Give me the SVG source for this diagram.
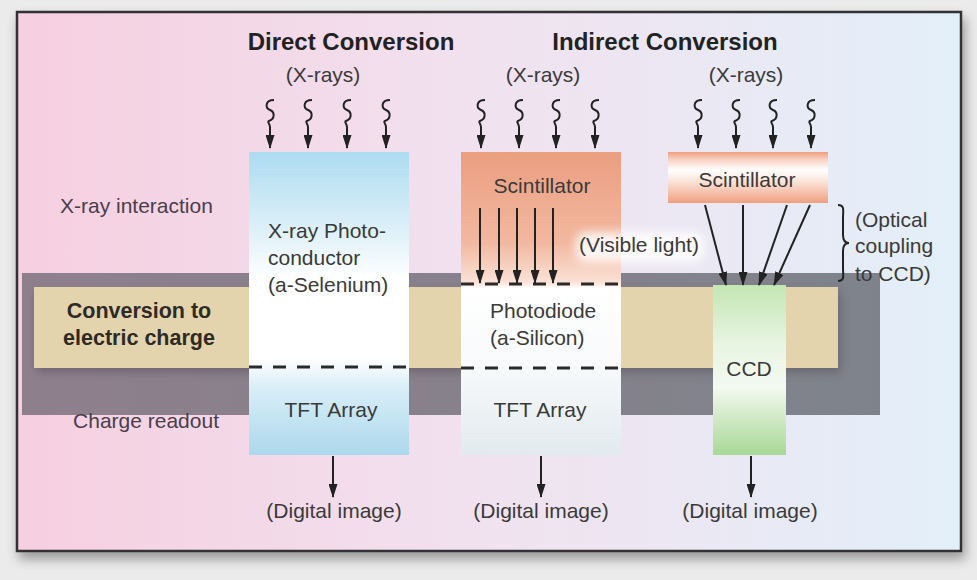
<svg xmlns="http://www.w3.org/2000/svg" width="977" height="580" viewBox="0 0 977 580">
<defs>
  <style>
    text { font-family: "Liberation Sans", Arial, sans-serif; font-size: 21px; fill: #3a3a3a; }
    .title { font-weight: bold; font-size: 24px; fill: #222; }
    .bold { font-weight: bold; font-size: 21.5px; fill: #2e2a26; }
    .side { fill: #4a3e4a; }
    .c { text-anchor: middle; }
    .ln { stroke: #222; stroke-width: 2; fill: none; }
    .arr { stroke: #222; stroke-width: 2; fill: none; marker-end: url(#ah); }
    .dash { stroke: #2a2a2a; stroke-width: 3; stroke-dasharray: 13 11; fill: none; }
  </style>
  <marker id="ah" markerUnits="userSpaceOnUse" markerWidth="14" markerHeight="9" refX="13" refY="4.5" orient="auto">
    <path d="M0,0 L14,4.5 L0,9 Z" fill="#222"/>
  </marker>
  <linearGradient id="bg" x1="0" y1="0" x2="1" y2="0">
    <stop offset="0" stop-color="#f6cfe0"/>
    <stop offset="0.5" stop-color="#f1e2ef"/>
    <stop offset="1" stop-color="#e2eff9"/>
  </linearGradient>
  <linearGradient id="band" x1="0" y1="0" x2="1" y2="0">
    <stop offset="0" stop-color="#8f7f8d"/>
    <stop offset="1" stop-color="#7e838b"/>
  </linearGradient>
  <linearGradient id="g1" x1="0" y1="0" x2="0" y2="1">
    <stop offset="0" stop-color="#acdcf0"/>
    <stop offset="0.28" stop-color="#e2f2f9"/>
    <stop offset="0.42" stop-color="#ffffff"/>
    <stop offset="0.68" stop-color="#ffffff"/>
    <stop offset="0.78" stop-color="#d8eef7"/>
    <stop offset="1" stop-color="#acd8ec"/>
  </linearGradient>
  <linearGradient id="g2" x1="0" y1="0" x2="0" y2="1">
    <stop offset="0" stop-color="#eb9e80"/>
    <stop offset="0.3" stop-color="#f2b8a0"/>
    <stop offset="0.43" stop-color="#fbe2d6"/>
    <stop offset="0.45" stop-color="#ffffff"/>
    <stop offset="0.7" stop-color="#f8fafb"/>
    <stop offset="1" stop-color="#e2eaee"/>
  </linearGradient>
  <linearGradient id="gs" x1="0" y1="0" x2="0" y2="1">
    <stop offset="0" stop-color="#ef9f80"/>
    <stop offset="0.15" stop-color="#f8d2c2"/>
    <stop offset="0.35" stop-color="#ffffff"/>
    <stop offset="0.6" stop-color="#fbe0d4"/>
    <stop offset="1" stop-color="#ef9f80"/>
  </linearGradient>
  <linearGradient id="gc" x1="0" y1="0" x2="0" y2="1">
    <stop offset="0" stop-color="#c4e6b4"/>
    <stop offset="0.35" stop-color="#e8f5e2"/>
    <stop offset="0.6" stop-color="#f4f9f1"/>
    <stop offset="1" stop-color="#a8d896"/>
  </linearGradient>
  <filter id="sh" x="-5%" y="-5%" width="110%" height="115%">
    <feDropShadow dx="3" dy="7" stdDeviation="6" flood-color="#000" flood-opacity="0.35"/>
  </filter>
  <filter id="blur" x="-20%" y="-50%" width="140%" height="200%">
    <feGaussianBlur stdDeviation="5"/>
  </filter>
</defs>

<rect x="0" y="0" width="977" height="580" fill="#ebebeb"/>
<rect id="frame" x="17" y="12" width="944" height="539" fill="url(#bg)" stroke="#333" stroke-width="2.5" filter="url(#sh)"/>

<g id="band-layer">
  <rect x="22" y="273" width="858" height="142" fill="url(#band)"/>
  <rect x="36" y="292" width="804" height="80" fill="#3a3038" opacity="0.35" filter="url(#blur)"/>
  <rect x="34" y="287" width="804" height="81" fill="#e3d4ae"/>
</g>

<g id="labels-left">
  <text x="60" y="213" class="side">X-ray interaction</text>
  <g id="conversion-label">
    <text x="139" y="318" class="bold c">Conversion to</text>
    <text x="139" y="345" class="bold c">electric charge</text>
  </g>
  <text x="146" y="428" class="side c">Charge readout</text>
</g>

<text x="351" y="50" class="title c">Direct Conversion</text>
<text x="665" y="50" class="title c">Indirect Conversion</text>
<text x="323" y="82" class="c">(X-rays)</text>
<text x="543" y="82" class="c">(X-rays)</text>
<text x="746" y="82" class="c">(X-rays)</text>

<g id="direct-column">
  <rect x="249" y="152" width="160" height="303" fill="url(#g1)"/>
  <line x1="249" y1="367" x2="409" y2="367" class="dash"/>
  <text x="268" y="238">X-ray Photo-</text>
  <text x="268" y="265">conductor</text>
  <text x="268" y="292">(a-Selenium)</text>
  <text x="331" y="417" class="c">TFT Array</text>
</g>

<g id="indirect-column">
  <rect x="461" y="152" width="160" height="303" fill="url(#g2)"/>
  <line x1="461" y1="284" x2="621" y2="284" class="dash"/>
  <line x1="461" y1="368" x2="621" y2="368" class="dash"/>
  <text x="542" y="193" class="c">Scintillator</text>
  <text x="490" y="318">Photodiode</text>
  <text x="490" y="345">(a-Silicon)</text>
  <text x="540" y="417" class="c">TFT Array</text>
</g>

<g id="visible-light">
  <rect x="576" y="232" width="128" height="30" rx="10" fill="#ffffff" opacity="0.85" filter="url(#blur)"/>
  <text x="639" y="252" class="c">(Visible light)</text>
</g>

<g id="scintillator-ccd">
  <rect x="668" y="152" width="160" height="51" fill="url(#gs)"/>
  <text x="747" y="187" class="c">Scintillator</text>
</g>

<g id="ccd">
  <rect x="713" y="285" width="73" height="170" fill="url(#gc)"/>
  <text x="749" y="376" class="c">CCD</text>
</g>

<g id="optical-coupling">
  <path d="M838,205 C845,205 843,210 843,218 L843,235 C843,241 845,243 849,243 C845,243 843,245 843,251 L843,268 C843,276 845,281 838,281" class="ln"/>
  <text x="855" y="227">(Optical</text>
  <text x="855" y="253">coupling</text>
  <text x="855" y="281">to CCD)</text>
</g>

<g id="connectors">
  <!-- x-ray squiggles -->
  <path class="arr" d="M274,100 C265,100 265,108 270,110 C275,112 275,119 269,121 C267,122 270,124 270,127 L270,148"/>
  <path class="arr" d="M312,100 C303,100 303,108 308,110 C313,112 313,119 307,121 C305,122 308,124 308,127 L308,148"/>
  <path class="arr" d="M351,100 C342,100 342,108 347,110 C352,112 352,119 346,121 C344,122 347,124 347,127 L347,148"/>
  <path class="arr" d="M390,100 C381,100 381,108 386,110 C391,112 391,119 385,121 C383,122 386,124 386,127 L386,148"/>

  <path class="arr" d="M485,100 C476,100 476,108 481,110 C486,112 486,119 480,121 C478,122 481,124 481,127 L481,148"/>
  <path class="arr" d="M523,100 C514,100 514,108 519,110 C524,112 524,119 518,121 C516,122 519,124 519,127 L519,148"/>
  <path class="arr" d="M560,100 C551,100 551,108 556,110 C561,112 561,119 555,121 C553,122 556,124 556,127 L556,148"/>
  <path class="arr" d="M599,100 C590,100 590,108 595,110 C600,112 600,119 594,121 C592,122 595,124 595,127 L595,148"/>

  <path class="arr" d="M702,100 C693,100 693,108 698,110 C703,112 703,119 697,121 C695,122 698,124 698,127 L698,148"/>
  <path class="arr" d="M740,100 C731,100 731,108 736,110 C741,112 741,119 735,121 C733,122 736,124 736,127 L736,148"/>
  <path class="arr" d="M777,100 C768,100 768,108 773,110 C778,112 778,119 772,121 C770,122 773,124 773,127 L773,148"/>
  <path class="arr" d="M815,100 C806,100 806,108 811,110 C816,112 816,119 810,121 C808,122 811,124 811,127 L811,148"/>

  <!-- visible light arrows -->
  <line class="arr" x1="480" y1="208" x2="480" y2="283"/>
  <line class="arr" x1="499" y1="208" x2="499" y2="283"/>
  <line class="arr" x1="517" y1="208" x2="517" y2="283"/>
  <line class="arr" x1="535" y1="208" x2="535" y2="283"/>
  <line class="arr" x1="553" y1="208" x2="553" y2="283"/>

  <!-- scintillator to CCD -->
  <line class="arr" x1="705" y1="205" x2="726" y2="285"/>
  <line class="arr" x1="743" y1="205" x2="743" y2="285"/>
  <line class="arr" x1="787" y1="205" x2="759" y2="285"/>
  <line class="arr" x1="810" y1="205" x2="774" y2="285"/>

  <!-- outputs -->
  <line class="arr" x1="333" y1="456" x2="333" y2="497"/>
  <line class="arr" x1="541" y1="456" x2="541" y2="497"/>
  <line class="arr" x1="751" y1="456" x2="751" y2="497"/>
</g>

<g id="outputs">
  <text x="334" y="518" class="c">(Digital image)</text>
  <text x="541" y="518" class="c">(Digital image)</text>
  <text x="750" y="518" class="c">(Digital image)</text>
</g>
</svg>
